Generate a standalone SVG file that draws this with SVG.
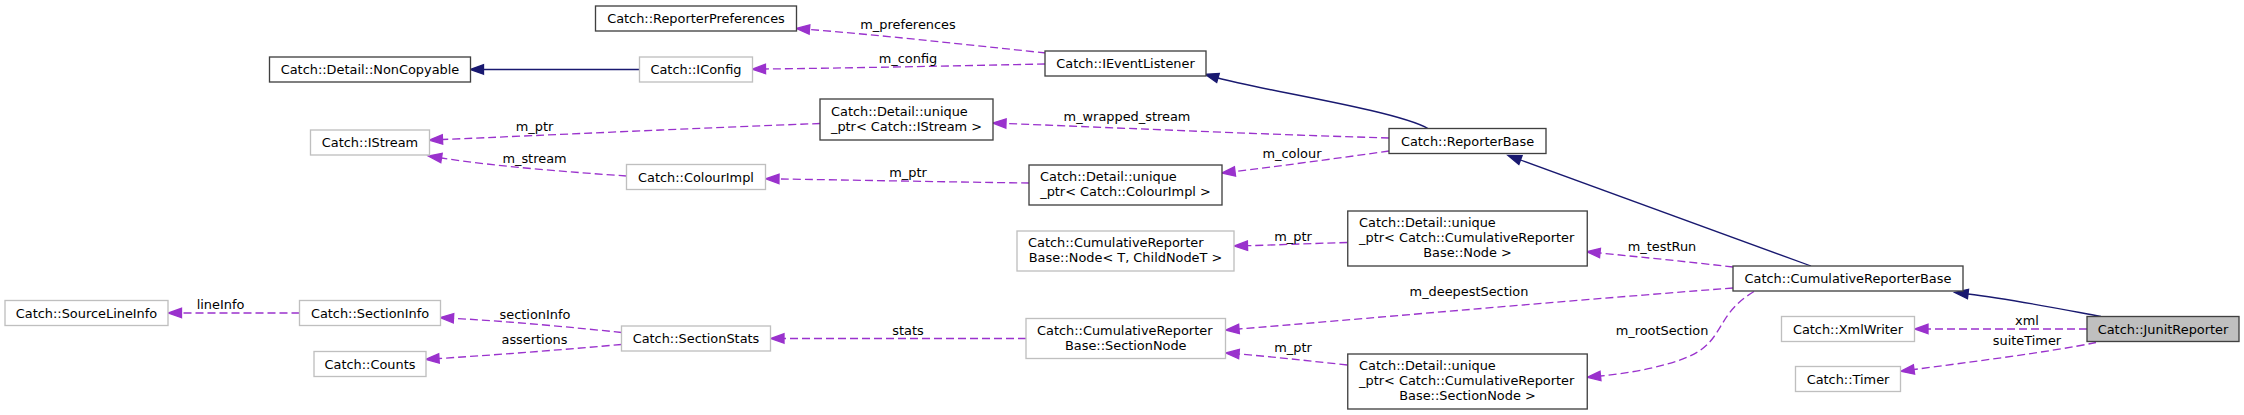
<svg xmlns="http://www.w3.org/2000/svg" width="2244" height="415" viewBox="0 0 2244 415">
<defs>
<style>
text{font-family:"DejaVu Sans","Liberation Sans",sans-serif;font-size:12.9px;fill:#000}
.c{text-anchor:middle}
.nd rect{stroke:#404040;stroke-width:1.33;fill:#fff}
.ng rect{stroke:#bfbfbf;stroke-width:1.33;fill:#fff}
.nr rect{stroke:#404040;stroke-width:1.33;fill:#bfbfbf}
.inh{fill:none;stroke:#191970;stroke-width:1.33;marker-end:url(#ab)}
.use{fill:none;stroke:#9a32cd;stroke-width:1.33;stroke-dasharray:8,4;marker-end:url(#ap)}
</style>
<marker id="ab" markerUnits="userSpaceOnUse" markerWidth="14" markerHeight="10" refX="0" refY="4.7" orient="auto" overflow="visible">
<path d="M0,0 L13.3,4.7 L0,9.4 Z" fill="#191970" stroke="#191970" stroke-width="1.33"/>
</marker>
<marker id="ap" markerUnits="userSpaceOnUse" markerWidth="14" markerHeight="10" refX="0" refY="4.7" orient="auto" overflow="visible">
<path d="M0,0 L13.3,4.7 L0,9.4 Z" fill="#9a32cd" stroke="#9a32cd" stroke-width="1.33"/>
</marker>
</defs>
<rect width="2244" height="415" fill="#fff"/>
<g id="edges">
<path class="inh" d="M639.5,69.5 L483.5,69.5"/>
<path class="use" d="M1045,64 C950,66 850,68 765.5,69"/>
<text class="c" x="908" y="62.5">m_config</text>
<path class="use" d="M1046,53 C960,44 880,35 809.5,29.5"/>
<text class="c" x="908" y="28.5">m_preferences</text>
<path class="inh" d="M1428,128.5 C1395,110 1260,90 1218,78"/>
<path class="use" d="M1389,138 C1250,134 1100,127 1006,123.5"/>
<text class="c" x="1127" y="121">m_wrapped_stream</text>
<path class="use" d="M1389,151 C1340,158 1280,166 1235,171.5"/>
<text class="c" x="1292" y="157.5">m_colour</text>
<path class="use" d="M1029,183 C950,182 850,180 779,179"/>
<text class="c" x="908" y="176.5">m_ptr</text>
<path class="use" d="M820,123.5 C700,128 550,135 442.5,139.5"/>
<text class="c" x="534.5" y="131">m_ptr</text>
<path class="use" d="M626.5,176 C570,172 500,167 441.5,158"/>
<text class="c" x="534.5" y="163">m_stream</text>
<path class="inh" d="M1811,266 L1520.5,160"/>
<path class="use" d="M1733,267 C1690,262 1640,257 1600,253"/>
<text class="c" x="1662" y="251">m_testRun</text>
<path class="use" d="M1347.5,242.5 C1310,243.5 1275,245 1247.5,245.7"/>
<text class="c" x="1293" y="240.5">m_ptr</text>
<path class="use" d="M1733,288 C1550,302 1350,320 1239,329"/>
<text class="c" x="1469" y="296">m_deepestSection</text>
<path class="use" d="M1754,291.5 C1715,315 1725,340 1690,356 C1665,367 1630,373 1600.5,376"/>
<text class="c" x="1662" y="334.5">m_rootSection</text>
<path class="use" d="M1347.5,365 C1310,361 1275,357 1239,354"/>
<text class="c" x="1293" y="352">m_ptr</text>
<path class="use" d="M1026,338.5 L784,338.5"/>
<text class="c" x="908" y="334.5">stats</text>
<path class="use" d="M621.5,332.5 C570,327 510,321.5 453.5,318.3"/>
<text class="c" x="535" y="318.5">sectionInfo</text>
<path class="use" d="M621.5,344.5 C570,349 510,354 439,358.5"/>
<text class="c" x="534.5" y="343.5">assertions</text>
<path class="use" d="M299.5,313 L181.5,313"/>
<text class="c" x="220.5" y="308.5">lineInfo</text>
<path class="inh" d="M2101,316.5 C2050,307 2010,299 1968,294"/>
<path class="use" d="M2087,329 L1928,329"/>
<text class="c" x="2027" y="324.5">xml</text>
<path class="use" d="M2096,342.5 C2050,352 1970,362 1914,369.5"/>
<text class="c" x="2027" y="345">suiteTimer</text>
</g>
<g id="n_prefs" class="nd"><rect x="595.5" y="6" width="201" height="25"/><text class="c" x="696" y="23">Catch::ReporterPreferences</text></g>
<g id="n_noncopyable" class="nd"><rect x="269.5" y="57" width="201" height="25"/><text class="c" x="370" y="74">Catch::Detail::NonCopyable</text></g>
<g id="n_iconfig" class="ng"><rect x="639.5" y="57" width="113" height="25"/><text class="c" x="696" y="74">Catch::IConfig</text></g>
<g id="n_ieventlistener" class="nd"><rect x="1045" y="51" width="161" height="25"/><text class="c" x="1125.5" y="68">Catch::IEventListener</text></g>
<g id="n_istream" class="ng"><rect x="310.5" y="130" width="119" height="25"/><text class="c" x="370" y="147">Catch::IStream</text></g>
<g id="n_uptr_istream" class="nd"><rect x="820" y="99" width="173" height="41"/><text x="831" y="115.5">Catch::Detail::unique</text><text class="c" x="906.5" y="130.5">_ptr&lt; Catch::IStream &gt;</text></g>
<g id="n_colourimpl" class="ng"><rect x="626.5" y="164.5" width="139" height="25"/><text class="c" x="696" y="181.5">Catch::ColourImpl</text></g>
<g id="n_uptr_colour" class="nd"><rect x="1029" y="165" width="193" height="40"/><text x="1040" y="181">Catch::Detail::unique</text><text class="c" x="1125.5" y="196">_ptr&lt; Catch::ColourImpl &gt;</text></g>
<g id="n_reporterbase" class="nd"><rect x="1389" y="128.5" width="157" height="25"/><text class="c" x="1467.5" y="145.5">Catch::ReporterBase</text></g>
<g id="n_node" class="ng"><rect x="1017" y="231" width="217" height="40"/><text x="1028" y="247">Catch::CumulativeReporter</text><text class="c" x="1125.5" y="262">Base::Node&lt; T, ChildNodeT &gt;</text></g>
<g id="n_uptr_node" class="nd"><rect x="1347.75" y="211" width="239.5" height="55"/><text x="1359" y="227">Catch::Detail::unique</text><text x="1359" y="242">_ptr&lt; Catch::CumulativeReporter</text><text class="c" x="1467.5" y="257">Base::Node &gt;</text></g>
<g id="n_cumulative" class="nd"><rect x="1733" y="266" width="230" height="25"/><text class="c" x="1848" y="283">Catch::CumulativeReporterBase</text></g>
<g id="n_sourcelineinfo" class="ng"><rect x="5" y="300.5" width="163" height="25"/><text class="c" x="86.5" y="317.5">Catch::SourceLineInfo</text></g>
<g id="n_sectioninfo" class="ng"><rect x="299.5" y="300.5" width="141" height="25"/><text class="c" x="370" y="317.5">Catch::SectionInfo</text></g>
<g id="n_sectionstats" class="ng"><rect x="621.5" y="326" width="149" height="25"/><text class="c" x="696" y="343">Catch::SectionStats</text></g>
<g id="n_counts" class="ng"><rect x="314" y="351.5" width="112" height="25"/><text class="c" x="370" y="368.5">Catch::Counts</text></g>
<g id="n_sectionnode" class="ng"><rect x="1026" y="318.5" width="199.5" height="40"/><text x="1037" y="334.5">Catch::CumulativeReporter</text><text class="c" x="1125.75" y="349.5">Base::SectionNode</text></g>
<g id="n_uptr_sectionnode" class="nd"><rect x="1347.75" y="354" width="239.5" height="55"/><text x="1359" y="370">Catch::Detail::unique</text><text x="1359" y="385">_ptr&lt; Catch::CumulativeReporter</text><text class="c" x="1467.5" y="400">Base::SectionNode &gt;</text></g>
<g id="n_xmlwriter" class="ng"><rect x="1781.5" y="316.5" width="133" height="25"/><text class="c" x="1848" y="333.5">Catch::XmlWriter</text></g>
<g id="n_junitreporter" class="nr"><rect x="2087" y="316.5" width="152" height="25"/><text class="c" x="2163" y="333.5">Catch::JunitReporter</text></g>
<g id="n_timer" class="ng"><rect x="1795.5" y="366.5" width="105" height="25"/><text class="c" x="1848" y="383.5">Catch::Timer</text></g>
</svg>
